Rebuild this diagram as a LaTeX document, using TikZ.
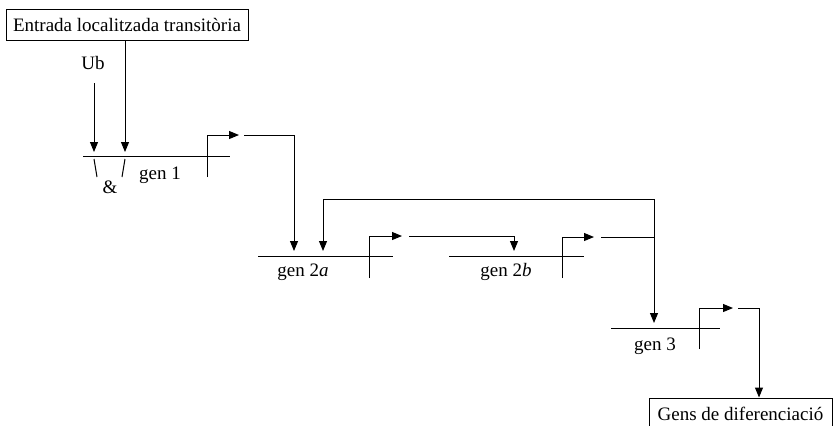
\documentclass[tikz,border=0pt]{standalone}
\usepackage{fontspec}
\setmainfont{Liberation Serif}
\usetikzlibrary{arrows.meta}

\tikzset{
  gene/.style={-, line width=0.5pt, color=black},
  wire/.style={line width=0.5pt, color=black, -{Triangle[length=5pt,width=4pt]}},
  lbl/.style={inner sep=0pt, font=\fontsize{9.5}{11}\selectfont},
  boxed/.style={draw, line width=0.5pt, inner sep=0pt, minimum height=15.5pt,
    font=\fontsize{9.5}{11}\selectfont}
}

\begin{document}
\begin{tikzpicture}[x=0.5pt, y=-0.5pt]
    \useasboundingbox (0,0) rectangle (833,425);

    \path
    (127,24.5) node[boxed, minimum width=121pt] (in) {Entrada localitzada transitòria}
    (93,63)    node[lbl] (ub) {Ub}
    (110,187)  node[lbl] (and) {\&}
    (160,175)  node[lbl] (n1) {gen 1}
    (303,272)  node[lbl] (n2a) {gen 2\textit{a}}
    (506,272)  node[lbl] (n2b) {gen 2\textit{b}}
    (655,346)  node[lbl] (n3) {gen 3}
    (740.5,414) node[boxed, minimum width=91.5pt, minimum height=16pt] (out) {Gens de diferenciació};

    % entrades de gen 1
    \path
    (94,83)   coordinate (ubs)
    (94,152)  coordinate (ube)
    (125,152) coordinate (ine)
    (94,159)  coordinate (s1a) (97,177)  coordinate (s1b)
    (125,159) coordinate (s2a) (122,177) coordinate (s2b);

    % gens: linia, promotor i sortida
    \path
    (83,156)  coordinate (g1l) (230,156) coordinate (g1r)
    (207,177) coordinate (p1b) (239,135) coordinate (p1e)
    (244,135) coordinate (o1s) (294,251) coordinate (o1e)
    (258,256) coordinate (g2al) (393,256) coordinate (g2ar)
    (369,278) coordinate (p2ab) (402,236) coordinate (p2ae)
    (409,236) coordinate (o2as) (514,251) coordinate (o2ae)
    (449,256) coordinate (g2bl) (584,256) coordinate (g2br)
    (562,278) coordinate (p2bb) (594,237) coordinate (p2be)
    (601,237) coordinate (o2bs) (654,237) coordinate (jn)
    (654,199) coordinate (fb)   (323,251) coordinate (fbe)
    (654,323) coordinate (g3e)
    (611,328) coordinate (g3l) (720,328) coordinate (g3r)
    (699,349) coordinate (p3b) (733,308) coordinate (p3e)
    (738,308) coordinate (o3s) (759,395) coordinate (o3e);

    \draw[wire] (ubs) -- (ube);
    \draw[wire] (in.south -| ine) -- (ine);
    \draw[gene] (s1a) -- (s1b);
    \draw[gene] (s2a) -- (s2b);

    \draw[gene] (g1l) -- (g1r);
    \draw[wire] (p1b) |- (p1e);
    \draw[wire] (o1s) -| (o1e);

    \draw[gene] (g2al) -- (g2ar);
    \draw[wire] (p2ab) |- (p2ae);
    \draw[wire] (o2as) -| (o2ae);

    \draw[gene] (g2bl) -- (g2br);
    \draw[wire] (p2bb) |- (p2be);
    \draw[wire] (o2bs) -| (g3e);
    \draw[wire] (jn) -- (fb) -| (fbe);

    \draw[gene] (g3l) -- (g3r);
    \draw[wire] (p3b) |- (p3e);
    \draw[wire] (o3s) -| (o3e |- out.north);

  \end{tikzpicture}
\end{document}
